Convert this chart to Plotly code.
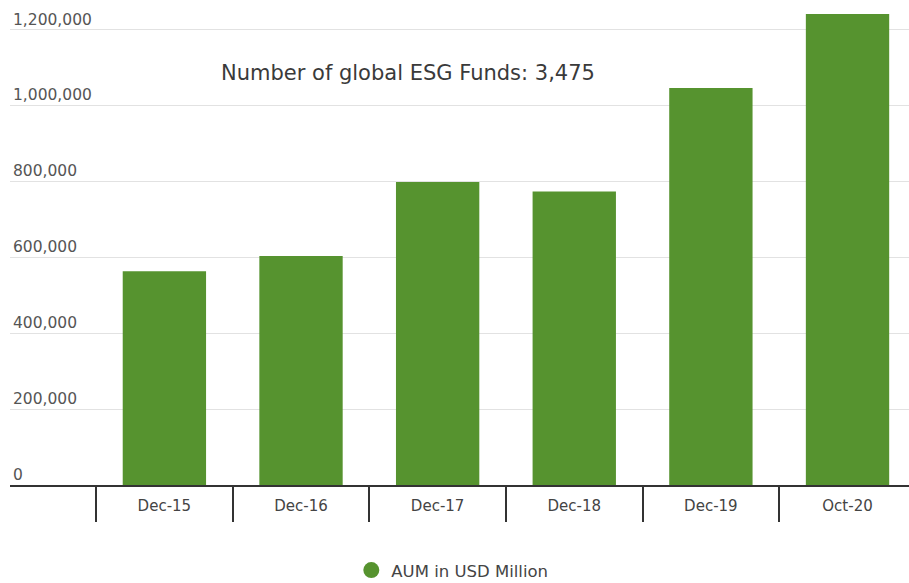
import plotly.graph_objects as go

# AUM of global ESG funds (USD million)
periods = ["Dec-15", "Dec-16", "Dec-17", "Dec-18", "Dec-19", "Oct-20"]
aum_usd_million = [564000, 604000, 799000, 774000, 1047000, 1242000]

y_tick_values = [0, 200000, 400000, 600000, 800000, 1000000, 1200000]
y_tick_labels = ["0", "200,000", "400,000", "600,000", "800,000", "1,000,000", "1,200,000"]

series_name = "AUM in USD Million"
fund_count_note = "Number of global ESG Funds: 3,475"

GREEN = "#56932f"
FONT = "DejaVu Sans"

fig = go.Figure()

fig.add_trace(go.Bar(
    x=periods,
    y=aum_usd_million,
    marker=dict(color=GREEN, line=dict(width=0)),
    showlegend=False,
    name=series_name,
))

# Legend entry drawn as a round swatch
fig.add_trace(go.Scatter(
    x=[None], y=[None],
    mode="markers",
    marker=dict(symbol="circle", size=18, color=GREEN),
    name=series_name,
    showlegend=True,
))

fig.add_annotation(
    text=fund_count_note,
    xref="paper", yref="paper",
    x=0.443, y=0.849,
    xanchor="center", yanchor="middle",
    showarrow=False,
    font=dict(family=FONT, size=21, color="#3a3a3a"),
)

fig.update_layout(
    width=909, height=583,
    margin=dict(l=10, r=0, t=0, b=98, autoexpand=False),
    paper_bgcolor="white",
    plot_bgcolor="white",
    bargap=0.39,
    font=dict(family=FONT, color="#444444"),
    legend=dict(
        orientation="h",
        x=0.492, y=-0.176,
        xanchor="center", yanchor="middle",
        font=dict(family=FONT, size=16.5, color="#444444"),
        bgcolor="rgba(0,0,0,0)",
    ),
)

fig.update_xaxes(
    type="category",
    range=[-1.13, 5.45],
    automargin=False,
    showgrid=False,
    showline=True, linecolor="#333333", linewidth=2,
    ticks="outside", tickson="boundaries",
    ticklen=35, tickwidth=1.5, tickcolor="#333333",
    ticklabelstandoff=6,
    tickfont=dict(family=FONT, size=15, color="#444444"),
    fixedrange=True,
)

fig.update_yaxes(
    range=[0, 1279000],
    automargin=False,
    tickmode="array",
    tickvals=y_tick_values,
    ticktext=y_tick_labels,
    ticklabelposition="inside top",
    ticklabelstandoff=0,
    showgrid=True, gridcolor="#e2e2e2", gridwidth=1,
    zeroline=False,
    showline=False,
    ticks="",
    tickfont=dict(family=FONT, size=15.5, color="#555555"),
    fixedrange=True,
)

fig.write_html("out.html")
